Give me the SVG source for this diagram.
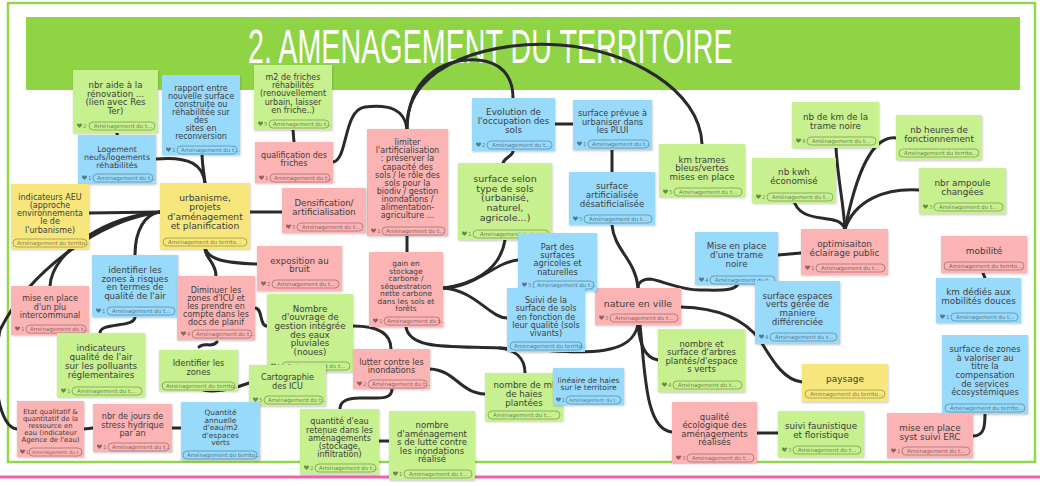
<svg xmlns="http://www.w3.org/2000/svg" width="1040" height="486" viewBox="0 0 1040 486">
<defs>
<style>
.g{fill:#c7f08e}.b{fill:#98dafc}.p{fill:#fbb3b4}.y{fill:#f6e67c}
.s{filter:url(#sh)}
.t{font-family:"DejaVu Sans","Liberation Sans",sans-serif;fill:#3d3d3d;text-anchor:middle}
.pill{fill:none;stroke:#000;stroke-opacity:.32;stroke-width:.9}
.pt{font-family:"DejaVu Sans","Liberation Sans",sans-serif;font-size:5.5px;fill:#000;fill-opacity:.5}
.ps{font-size:4.8px}
.n{font-family:"DejaVu Sans","Liberation Sans",sans-serif;font-size:5.5px;fill:#000;fill-opacity:.45}
.hrt{fill:#000;fill-opacity:.45}
.c path{fill:none;stroke:#2a2a2a;stroke-width:3;stroke-linecap:round}
</style>
<filter id="sh" x="-10%" y="-10%" width="120%" height="130%">
<feDropShadow dx="0.5" dy="1" stdDeviation="0.8" flood-opacity="0.22"/>
</filter>
<path id="hrt" class="hrt" d="M0,1.3 C0,-0.2 2,-0.4 2.5,0.9 C3,-0.4 5,-0.2 5,1.3 C5,2.6 3,3.7 2.5,4.4 C2,3.7 0,2.6 0,1.3Z"/>
</defs>
<rect width="1040" height="486" fill="#fff"/>
<rect x="8" y="3" width="1027" height="459" fill="none" stroke="#93d54b" stroke-width="2.5"/>
<line x1="0" y1="477" x2="1040" y2="477" stroke="#f063a6" stroke-width="3"/>
<g id="title">
<rect x="26" y="17" width="994" height="73" fill="#8fd444"/>
<text transform="translate(248 63) scale(0.594 1)" x="0" y="0" font-family="Liberation Sans, Arial, sans-serif" font-size="48" fill="#fff" textLength="816" lengthAdjust="spacingAndGlyphs">2. AMENAGEMENT DU TERRITOIRE</text>
</g>
<g class="c" id="connectors">
<path d="M116,130 L118,137"/>
<path d="M156,159 C190,156 203,165 205,183"/>
<path d="M202,152 C202,165 204,172 205,183"/>
<path d="M89,213 L160,212"/>
<path d="M50,286 C52,250 110,215 160,212"/>
<path d="M17,429 C0,428 -10,380 0,330 C30,270 100,220 160,212"/>
<path d="M135,255 C135,230 145,214 160,212"/>
<path d="M216,276 C216,262 205,258 205,249"/>
<path d="M205,247 C207,258 220,263 257,264"/>
<path d="M250,212 L282,212"/>
<path d="M293,130 L294,142"/>
<path d="M333,162 C348,160 343,110 365,107 C390,104 405,110 407,129"/>
<path d="M407,129 C408,80 440,58 478,60 C500,62 513,75 513,98"/>
<path d="M407,129 C405,60 500,40 560,45 C630,50 700,90 702,144"/>
<path d="M555,124 L573,124"/>
<path d="M513,151 C513,156 505,157 503,163"/>
<path d="M612,150 L612,172"/>
<path d="M612,225 C614,250 636,260 638,288"/>
<path d="M738,283 C737,292 715,290 700,290 C680,290 660,280 650,279 C642,279 638,283 638,288"/>
<path d="M778,255 L801,253"/>
<path d="M681,307 C720,308 745,320 760,340 C775,365 785,380 802,382"/>
<path d="M836,148 C838,180 843,200 845,229"/>
<path d="M896,138 C870,135 855,180 845,229"/>
<path d="M793,198 C800,228 838,210 845,229"/>
<path d="M919,190 C885,188 855,200 845,229"/>
<path d="M983,273 L985,278"/>
<path d="M973,436 C985,436 985,425 985,412"/>
<path d="M757,433 L778,433"/>
<path d="M638,325 C640,345 645,358 658,360"/>
<path d="M640,325 C645,370 645,430 672,432"/>
<path d="M406,327 C410,350 450,346 500,348 C580,352 630,360 638,325"/>
<path d="M525,373 C525,358 515,350 500,348"/>
<path d="M505,240 C500,272 470,285 443,288"/>
<path d="M443,288 C475,288 495,262 518,260"/>
<path d="M443,288 C475,290 490,318 507,318"/>
<path d="M407,236 L407,252"/>
<path d="M353,326 C380,326 391,335 391,349"/>
<path d="M392,389 C392,400 380,398 360,398 C345,398 340,402 340,409"/>
<path d="M430,369 C455,370 460,393 485,394"/>
<path d="M379,441 L389,441"/>
<path d="M198,386 C201,394 225,392 249,383"/>
<path d="M199,347 C205,341 211,349 217,342"/>
<path d="M255,308 C263,308 259,326 267,326"/>
<path d="M100,333 C100,322 135,328 135,317"/>
<path d="M84,429 L93,428"/>
<path d="M172,428 L181,428"/>
</g>

<g id="n1"><rect class="g s" x="73" y="70" width="85" height="63"/>
<text class="t" font-size="8.6"><tspan x="115.5" y="87.8">nbr aide à la</tspan><tspan x="115.5" dy="8.8">rénovation ...</tspan><tspan x="115.5" dy="8.8">(lien avec Res</tspan><tspan x="115.5" dy="8.8">Ter)</tspan></text>
<use href="#hrt" x="77" y="123.5"/><text class="n" x="83" y="128.3">2</text><rect class="pill" x="89" y="122" width="66" height="8" rx="4"/><text class="pt" x="94" y="128">Aménagement du t...</text></g>

<g id="n2"><rect class="b s" x="162" y="75" width="78" height="80"/>
<text class="t" font-size="8"><tspan x="201" y="90.8">rapport entre</tspan><tspan x="201" dy="8">nouvelle surface</tspan><tspan x="201" dy="8">construite ou</tspan><tspan x="201" dy="8">réhabilitée sur</tspan><tspan x="201" dy="8">des</tspan><tspan x="201" dy="8">sites en</tspan><tspan x="201" dy="8">reconversion</tspan></text>
<use href="#hrt" x="166" y="147.5"/><text class="n" x="172" y="152.3">1</text><rect class="pill" x="177" y="146" width="60" height="8" rx="4"/><text class="pt" x="181" y="152">Aménagement du t...</text></g>

<g id="n3"><rect class="b s" x="78" y="135" width="78" height="49"/>
<text class="t" font-size="7.9"><tspan x="117" y="151.5">Logement</tspan><tspan x="117" dy="8">neufs/logements</tspan><tspan x="117" dy="8">réhabilités</tspan></text>
<use href="#hrt" x="82" y="175.5"/><text class="n" x="88" y="180.3">1</text><rect class="pill" x="93" y="174" width="60" height="8" rx="4"/><text class="pt" x="97" y="180">Aménagement du t...</text></g>

<g id="n4"><rect class="y s" x="11" y="184" width="78" height="65"/>
<text class="t" font-size="8"><tspan x="50" y="200.1">indicateurs AEU</tspan><tspan x="50" dy="8.1">(approche</tspan><tspan x="50" dy="8.1">environnementa</tspan><tspan x="50" dy="8.1">le de</tspan><tspan x="50" dy="8.1">l'urbanisme)</tspan></text>
<rect class="pill" x="13" y="239" width="74" height="8" rx="4"/><text class="pt" x="17" y="245">Aménagement du territo...</text></g>

<g id="n5"><rect class="y s" x="160" y="183" width="90" height="66"/>
<text class="t" font-size="9.2"><tspan x="205" y="201.1">urbanisme,</tspan><tspan x="205" dy="9.2">projets</tspan><tspan x="205" dy="9.2">d'aménagement</tspan><tspan x="205" dy="9.2">et planification</tspan></text>
<rect class="pill" x="163" y="238" width="84" height="8" rx="4"/><text class="pt" x="168" y="244">Aménagement du territo...</text></g>

<g id="n6"><rect class="g s" x="254" y="65" width="78" height="65"/>
<text class="t" font-size="8"><tspan x="293" y="80">m2 de friches</tspan><tspan x="293" dy="8.2">réhabilités</tspan><tspan x="293" dy="8.2">(renouvellement</tspan><tspan x="293" dy="8.2">urbain, laisser</tspan><tspan x="293" dy="8.2">en friche..)</tspan></text>
<use href="#hrt" x="258" y="121.5"/><text class="n" x="264" y="126.3">5</text><rect class="pill" x="269" y="120" width="60" height="8" rx="4"/><text class="pt" x="273" y="126">Aménagement du t...</text></g>

<g id="n7"><rect class="p s" x="255" y="142" width="78" height="41"/>
<text class="t" font-size="8"><tspan x="294" y="158.3">qualification des</tspan><tspan x="294" dy="8">friches</tspan></text>
<use href="#hrt" x="259" y="175.5"/><text class="n" x="265" y="180.3">1</text><rect class="pill" x="270" y="174" width="60" height="8" rx="4"/><text class="pt" x="274" y="180">Aménagement du t...</text></g>

<g id="n8"><rect class="p s" x="367" y="129" width="81" height="107"/>
<text class="t" font-size="8"><tspan x="407.5" y="145.1">limiter</tspan><tspan x="407.5" dy="8.15">l'artificialisation</tspan><tspan x="407.5" dy="8.15">: préserver la</tspan><tspan x="407.5" dy="8.15">capacité des</tspan><tspan x="407.5" dy="8.15">sols / le rôle des</tspan><tspan x="407.5" dy="8.15">sols pour la</tspan><tspan x="407.5" dy="8.15">biodiv / gestion</tspan><tspan x="407.5" dy="8.15">inondations /</tspan><tspan x="407.5" dy="8.15">alimentation-</tspan><tspan x="407.5" dy="8.15">agriculture ...</tspan></text>
<use href="#hrt" x="371" y="228.5"/><text class="n" x="377" y="233.3">1</text><rect class="pill" x="382" y="227" width="63" height="8" rx="4"/><text class="pt" x="386" y="233">Aménagement du t...</text></g>

<g id="n9"><rect class="p s" x="282" y="188" width="84" height="45"/>
<text class="t" font-size="8.6"><tspan x="324" y="206.2">Densification/</tspan><tspan x="324" dy="8.6">artificialisation</tspan></text>
<use href="#hrt" x="286" y="224.5"/><text class="n" x="292" y="229.3">5</text><rect class="pill" x="297" y="223" width="66" height="8" rx="4"/><text class="pt" x="302" y="229">Aménagement du t...</text></g>

<g id="n10"><rect class="b s" x="472" y="98" width="83" height="53"/>
<text class="t" font-size="8.8"><tspan x="513.5" y="115.2">Evolution de</tspan><tspan x="513.5" dy="8.9">l'occupation des</tspan><tspan x="513.5" dy="8.9">sols</tspan></text>
<use href="#hrt" x="476" y="142.5"/><text class="n" x="482" y="147.3">2</text><rect class="pill" x="487" y="141" width="65" height="8" rx="4"/><text class="pt" x="492" y="147">Aménagement du t...</text></g>

<g id="n11"><rect class="b s" x="573" y="100" width="79" height="50"/>
<text class="t" font-size="8.2"><tspan x="612.5" y="116.3">surface prévue à</tspan><tspan x="612.5" dy="8.3">urbaniser dans</tspan><tspan x="612.5" dy="8.3">les PLUI</tspan></text>
<use href="#hrt" x="577" y="141.5"/><text class="n" x="583" y="146.3">1</text><rect class="pill" x="588" y="140" width="61" height="8" rx="4"/><text class="pt" x="592" y="146">Aménagement du t...</text></g>

<g id="n12"><rect class="g s" x="458" y="163" width="94" height="77"/>
<text class="t" font-size="9.5"><tspan x="505" y="182.1">surface selon</tspan><tspan x="505" dy="9.6">type de sols</tspan><tspan x="505" dy="9.6">(urbanisé,</tspan><tspan x="505" dy="9.6">naturel,</tspan><tspan x="505" dy="9.6">agricole...)</tspan></text>
<use href="#hrt" x="462" y="231.5"/><text class="n" x="468" y="236.3">1</text><rect class="pill" x="473" y="230" width="76" height="8" rx="4"/><text class="pt" x="480" y="236">Aménagement du t...</text></g>

<g id="n13"><rect class="b s" x="569" y="172" width="86" height="53"/>
<text class="t" font-size="8.7"><tspan x="612" y="189.2">surface</tspan><tspan x="612" dy="8.8">artificialisée</tspan><tspan x="612" dy="8.8">désatificialisée</tspan></text>
<use href="#hrt" x="573" y="216.5"/><text class="n" x="579" y="221.3">5</text><rect class="pill" x="584" y="215" width="68" height="8" rx="4"/><text class="pt" x="589" y="221">Aménagement du t...</text></g>

<g id="n14"><rect class="g s" x="659" y="144" width="86" height="53"/>
<text class="t" font-size="8.7"><tspan x="702" y="162.5">km trames</tspan><tspan x="702" dy="8.8">bleus/vertes</tspan><tspan x="702" dy="8.8">mises en place</tspan></text>
<use href="#hrt" x="663" y="189.5"/><text class="n" x="669" y="194.3">5</text><rect class="pill" x="674" y="188" width="68" height="8" rx="4"/><text class="pt" x="679" y="194">Aménagement du t...</text></g>

<g id="n15"><rect class="g s" x="792" y="102" width="87" height="46"/>
<text class="t" font-size="8.7"><tspan x="835.5" y="119.7">nb de km de la</tspan><tspan x="835.5" dy="9">trame noire</tspan></text>
<use href="#hrt" x="796" y="138.5"/><text class="n" x="802" y="143.3">4</text><rect class="pill" x="807" y="137" width="69" height="8" rx="4"/><text class="pt" x="812" y="143">Aménagement du t...</text></g>

<g id="n16"><rect class="g s" x="896" y="115" width="86" height="45"/>
<text class="t" font-size="8.8"><tspan x="939" y="133.1">nb heures de</tspan><tspan x="939" dy="9">fonctionnement</tspan></text>
<rect class="pill" x="899" y="149" width="80" height="8" rx="4"/><text class="pt" x="904" y="155">Aménagement du territo...</text></g>

<g id="n17"><rect class="g s" x="752" y="158" width="84" height="45"/>
<text class="t" font-size="8.8"><tspan x="794" y="175.1">nb kwh</tspan><tspan x="794" dy="9">économisé</tspan></text>
<use href="#hrt" x="756" y="194.5"/><text class="n" x="762" y="199.3">2</text><rect class="pill" x="767" y="193" width="66" height="8" rx="4"/><text class="pt" x="772" y="199">Aménagement du t...</text></g>

<g id="n18"><rect class="g s" x="919" y="168" width="87" height="46"/>
<text class="t" font-size="8.8"><tspan x="962.5" y="186.1">nbr ampoule</tspan><tspan x="962.5" dy="9">changées</tspan></text>
<use href="#hrt" x="923" y="204.5"/><text class="n" x="929" y="209.3">3</text><rect class="pill" x="934" y="203" width="69" height="8" rx="4"/><text class="pt" x="939" y="209">Aménagement du t...</text></g>

<g id="n19"><rect class="p s" x="801" y="229" width="87" height="46"/>
<text class="t" font-size="8.8"><tspan x="844.5" y="246.9">optimisaiton</tspan><tspan x="844.5" dy="9">éclairage public</tspan></text>
<use href="#hrt" x="805" y="265.5"/><text class="n" x="811" y="270.3">1</text><rect class="pill" x="816" y="264" width="69" height="8" rx="4"/><text class="pt" x="821" y="270">Aménagement du t...</text></g>

<g id="n20"><rect class="b s" x="695" y="232" width="83" height="53"/>
<text class="t" font-size="8.7"><tspan x="736.5" y="248.8">Mise en place</tspan><tspan x="736.5" dy="8.9">d'une trame</tspan><tspan x="736.5" dy="8.9">noire</tspan></text>
<use href="#hrt" x="699" y="277.5"/><text class="n" x="705" y="282.3">4</text><rect class="pill" x="710" y="276" width="65" height="8" rx="4"/><text class="pt" x="715" y="282">Aménagement du t...</text></g>

<g id="n21"><rect class="p s" x="941" y="236" width="86" height="37"/>
<text class="t" font-size="9"><tspan x="984" y="254.2">mobilité</tspan></text>
<rect class="pill" x="944" y="262" width="80" height="8" rx="4"/><text class="pt" x="949" y="268">Aménagement du territo...</text></g>

<g id="n22"><rect class="b s" x="936" y="278" width="85" height="45"/>
<text class="t" font-size="8.8"><tspan x="978.5" y="295.4">km dédiés aux</tspan><tspan x="978.5" dy="9">mobilités douces</tspan></text>
<use href="#hrt" x="940" y="314.5"/><text class="n" x="946" y="319.3">1</text><rect class="pill" x="951" y="313" width="67" height="8" rx="4"/><text class="pt" x="956" y="319">Aménagement du t...</text></g>

<g id="n23"><rect class="b s" x="755" y="281" width="85" height="63"/>
<text class="t" font-size="8.7"><tspan x="797.5" y="298.6">surface espaces</tspan><tspan x="797.5" dy="8.8">verts gérée de</tspan><tspan x="797.5" dy="8.8">maniere</tspan><tspan x="797.5" dy="8.8">différenciée</tspan></text>
<use href="#hrt" x="759" y="334.5"/><text class="n" x="765" y="339.3">4</text><rect class="pill" x="770" y="333" width="67" height="8" rx="4"/><text class="pt" x="775" y="339">Aménagement du t...</text></g>

<g id="n24"><rect class="b s" x="942" y="335" width="86" height="79"/>
<text class="t" font-size="8.4"><tspan x="985" y="352.2">surface de zones</tspan><tspan x="985" dy="8.6">à valoriser au</tspan><tspan x="985" dy="8.6">titre la</tspan><tspan x="985" dy="8.6">compensation</tspan><tspan x="985" dy="8.6">de services</tspan><tspan x="985" dy="8.6">écosystémiques</tspan></text>
<rect class="pill" x="945" y="404" width="80" height="8" rx="4"/><text class="pt" x="950" y="410">Aménagement du territo...</text></g>

<g id="n25"><rect class="y s" x="802" y="364" width="86" height="38"/>
<text class="t" font-size="9"><tspan x="845" y="382.2">paysage</tspan></text>
<rect class="pill" x="805" y="390" width="80" height="8" rx="4"/><text class="pt" x="810" y="396">Aménagement du territo...</text></g>

<g id="n26"><rect class="g s" x="778" y="411" width="86" height="46"/>
<text class="t" font-size="8.8"><tspan x="821" y="429.1">suivi faunistique</tspan><tspan x="821" dy="9">et floristique</tspan></text>
<use href="#hrt" x="782" y="447.5"/><text class="n" x="788" y="452.3">3</text><rect class="pill" x="793" y="446" width="68" height="8" rx="4"/><text class="pt" x="798" y="452">Aménagement du t...</text></g>

<g id="n27"><rect class="p s" x="887" y="413" width="86" height="45"/>
<text class="t" font-size="8.8"><tspan x="930" y="430.8">mise en place</tspan><tspan x="930" dy="9">syst suivi ERC</tspan></text>
<use href="#hrt" x="891" y="448.5"/><text class="n" x="897" y="453.3">1</text><rect class="pill" x="902" y="447" width="68" height="8" rx="4"/><text class="pt" x="907" y="453">Aménagement du t...</text></g>

<g id="n28"><rect class="p s" x="672" y="402" width="85" height="61"/>
<text class="t" font-size="8.5"><tspan x="714.5" y="419.5">qualité</tspan><tspan x="714.5" dy="8.5">écologique des</tspan><tspan x="714.5" dy="8.5">aménagements</tspan><tspan x="714.5" dy="8.5">réalisés</tspan></text>
<use href="#hrt" x="676" y="455.5"/><text class="n" x="682" y="460.3">3</text><rect class="pill" x="687" y="454" width="67" height="8" rx="4"/><text class="pt" x="692" y="460">Aménagement du t...</text></g>

<g id="n29"><rect class="g s" x="658" y="329" width="87" height="63"/>
<text class="t" font-size="8.5"><tspan x="701.5" y="346.9">nombre et</tspan><tspan x="701.5" dy="8.5">surface d'arbres</tspan><tspan x="701.5" dy="8.5">plantés/d'espace</tspan><tspan x="701.5" dy="8.5">s verts</tspan></text>
<use href="#hrt" x="662" y="382.5"/><text class="n" x="668" y="387.3">4</text><rect class="pill" x="673" y="381" width="69" height="8" rx="4"/><text class="pt" x="678" y="387">Aménagement du t...</text></g>

<g id="n30"><rect class="p s" x="595" y="288" width="86" height="37"/>
<text class="t" font-size="9.5"><tspan x="638" y="306.6">nature en ville</tspan></text>
<use href="#hrt" x="599" y="315.5"/><text class="n" x="605" y="320.3">3</text><rect class="pill" x="610" y="314" width="68" height="8" rx="4"/><text class="pt" x="615" y="320">Aménagement du t...</text></g>

<g id="n31"><rect class="b s" x="518" y="233" width="79" height="58"/>
<text class="t" font-size="8.2"><tspan x="557.5" y="249.9">Part des</tspan><tspan x="557.5" dy="8.2">surfaces</tspan><tspan x="557.5" dy="8.2">agricoles et</tspan><tspan x="557.5" dy="8.2">naturelles</tspan></text>
<use href="#hrt" x="522" y="282.5"/><text class="n" x="528" y="287.3">5</text><rect class="pill" x="533" y="281" width="61" height="8" rx="4"/><text class="pt" x="537" y="287">Aménagement du t...</text></g>

<g id="n32"><rect class="b s" x="507" y="288" width="78" height="64"/>
<text class="t" font-size="8.1"><tspan x="546" y="303.3">Suivi de la</tspan><tspan x="546" dy="8.1">surface de sols</tspan><tspan x="546" dy="8.1">en fonction de</tspan><tspan x="546" dy="8.1">leur qualité (sols</tspan><tspan x="546" dy="8.1">vivants)</tspan></text>
<rect class="pill" x="510" y="342" width="72" height="8" rx="4"/><text class="pt" x="514" y="348">Aménagement du territo...</text></g>

<g id="n33"><rect class="p s" x="369" y="252" width="74" height="75"/>
<text class="t" font-size="7.4"><tspan x="406" y="266.3">gain en</tspan><tspan x="406" dy="7.5">stockage</tspan><tspan x="406" dy="7.5">carbone /</tspan><tspan x="406" dy="7.5">séquestration</tspan><tspan x="406" dy="7.5">nette carbone</tspan><tspan x="406" dy="7.5">dans les sols et</tspan><tspan x="406" dy="7.5">forêts</tspan></text>
<use href="#hrt" x="373" y="318.5"/><text class="n" x="379" y="323.3">1</text><rect class="pill" x="384" y="317" width="56" height="8" rx="4"/><text class="pt" x="387" y="323">Aménagement du t...</text></g>

<g id="n34"><rect class="p s" x="257" y="246" width="85" height="45"/>
<text class="t" font-size="8.7"><tspan x="299.5" y="263.6">exposition au</tspan><tspan x="299.5" dy="8.8">bruit</tspan></text>
<use href="#hrt" x="261" y="281.5"/><text class="n" x="267" y="286.3">2</text><rect class="pill" x="272" y="280" width="67" height="8" rx="4"/><text class="pt" x="277" y="286">Aménagement du t...</text></g>

<g id="n35"><rect class="b s" x="92" y="255" width="86" height="62"/>
<text class="t" font-size="8.6"><tspan x="135" y="273">identifier les</tspan><tspan x="135" dy="8.7">zones à risques</tspan><tspan x="135" dy="8.7">en termes de</tspan><tspan x="135" dy="8.7">qualité de l'air</tspan></text>
<use href="#hrt" x="96" y="308.5"/><text class="n" x="102" y="313.3">1</text><rect class="pill" x="107" y="307" width="68" height="8" rx="4"/><text class="pt" x="112" y="313">Aménagement du t...</text></g>

<g id="n36"><rect class="p s" x="177" y="276" width="78" height="64"/>
<text class="t" font-size="8"><tspan x="216" y="292.6">Diminuer les</tspan><tspan x="216" dy="8">zones d'ICU et</tspan><tspan x="216" dy="8">les prendre en</tspan><tspan x="216" dy="8">compte dans les</tspan><tspan x="216" dy="8">docs de planif</tspan></text>
<use href="#hrt" x="181" y="331.5"/><text class="n" x="187" y="336.3">4</text><rect class="pill" x="192" y="330" width="60" height="8" rx="4"/><text class="pt" x="196" y="336">Aménagement du t...</text></g>

<g id="n37"><rect class="p s" x="11" y="286" width="78" height="49"/>
<text class="t" font-size="8"><tspan x="50" y="301.3">mise en place</tspan><tspan x="50" dy="8.2">d'un plu</tspan><tspan x="50" dy="8.2">intercommunal</tspan></text>
<use href="#hrt" x="15" y="326.5"/><text class="n" x="21" y="331.3">1</text><rect class="pill" x="26" y="325" width="60" height="8" rx="4"/><text class="pt" x="30" y="331">Aménagement du t...</text></g>

<g id="n38"><rect class="g s" x="267" y="294" width="86" height="78"/>
<text class="t" font-size="8.7"><tspan x="310" y="311.6">Nombre</tspan><tspan x="310" dy="8.7">d'ouvrage de</tspan><tspan x="310" dy="8.7">gestion intégrée</tspan><tspan x="310" dy="8.7">des eaux</tspan><tspan x="310" dy="8.7">pluviales</tspan><tspan x="310" dy="8.7">(noues)</tspan></text>
<use href="#hrt" x="271" y="363.5"/><text class="n" x="277" y="368.3">3</text><rect class="pill" x="282" y="362" width="68" height="8" rx="4"/><text class="pt" x="287" y="368">Aménagement du t...</text></g>

<g id="n39"><rect class="g s" x="57" y="333" width="88" height="64"/>
<text class="t" font-size="8.8"><tspan x="101" y="351.1">indicateurs</tspan><tspan x="101" dy="8.8">qualité de l'air</tspan><tspan x="101" dy="8.8">sur les polluants</tspan><tspan x="101" dy="8.8">réglementaires</tspan></text>
<use href="#hrt" x="61" y="388.5"/><text class="n" x="67" y="393.3">1</text><rect class="pill" x="72" y="387" width="70" height="8" rx="4"/><text class="pt" x="77" y="393">Aménagement du t...</text></g>

<g id="n40"><rect class="g s" x="159" y="350" width="79" height="41"/>
<text class="t" font-size="8.3"><tspan x="198.5" y="366.2">Identifier les</tspan><tspan x="198.5" dy="8.4">zones</tspan></text>
<rect class="pill" x="162" y="382" width="73" height="8" rx="4"/><text class="pt" x="166" y="388">Aménagement du territo...</text></g>

<g id="n41"><rect class="g s" x="249" y="365" width="77" height="41"/>
<text class="t" font-size="8.1"><tspan x="287.5" y="380.4">Cartographie</tspan><tspan x="287.5" dy="8.2">des ICU</tspan></text>
<use href="#hrt" x="253" y="397.5"/><text class="n" x="259" y="402.3">5</text><rect class="pill" x="264" y="396" width="59" height="8" rx="4"/><text class="pt" x="268" y="402">Aménagement du t...</text></g>

<g id="n42"><rect class="p s" x="353" y="349" width="77" height="40"/>
<text class="t" font-size="8.1"><tspan x="391.5" y="364.9">lutter contre les</tspan><tspan x="391.5" dy="8.2">inondations</tspan></text>
<use href="#hrt" x="357" y="381.5"/><text class="n" x="363" y="386.3">2</text><rect class="pill" x="368" y="380" width="59" height="8" rx="4"/><text class="pt" x="372" y="386">Aménagement du t...</text></g>

<g id="n43"><rect class="p s" x="17" y="401" width="67" height="56"/>
<text class="t" font-size="6.9"><tspan x="50.5" y="414.4">Etat qualitatif &amp;</tspan><tspan x="50.5" dy="7">quantitatif de la</tspan><tspan x="50.5" dy="7">ressource en</tspan><tspan x="50.5" dy="7">eau (indicateur</tspan><tspan x="50.5" dy="7">Agence de l'eau)</tspan></text>
<use href="#hrt" x="20" y="449.5"/><text class="n" x="25.5" y="454">1</text><rect class="pill" x="29" y="448" width="53" height="8" rx="4"/><text class="pt ps" x="32" y="454">Aménagement du t...</text></g>

<g id="n44"><rect class="p s" x="93" y="404" width="79" height="48"/>
<text class="t" font-size="8.1"><tspan x="132.5" y="419.4">nbr de jours de</tspan><tspan x="132.5" dy="8.2">stress hydrique</tspan><tspan x="132.5" dy="8.2">par an</tspan></text>
<use href="#hrt" x="97" y="444.5"/><text class="n" x="103" y="449.3">1</text><rect class="pill" x="108" y="443" width="61" height="8" rx="4"/><text class="pt" x="112" y="449">Aménagement du t...</text></g>

<g id="n45"><rect class="b s" x="181" y="402" width="79" height="58"/>
<text class="t" font-size="7.4"><tspan x="220.5" y="415.4">Quantité</tspan><tspan x="220.5" dy="7.5">annuelle</tspan><tspan x="220.5" dy="7.5">d'eau/m2</tspan><tspan x="220.5" dy="7.5">d'espaces</tspan><tspan x="220.5" dy="7.5">verts</tspan></text>
<rect class="pill" x="183" y="451" width="74" height="8" rx="4"/><text class="pt" x="187" y="457">Aménagement du territo...</text></g>

<g id="n46"><rect class="g s" x="300" y="409" width="79" height="65"/>
<text class="t" font-size="8"><tspan x="339.5" y="424.4">quantité d'eau</tspan><tspan x="339.5" dy="8.2">retenue dans les</tspan><tspan x="339.5" dy="8.2">aménagements</tspan><tspan x="339.5" dy="8.2">(stockage,</tspan><tspan x="339.5" dy="8.2">infiltration)</tspan></text>
<use href="#hrt" x="304" y="465.5"/><text class="n" x="310" y="470.3">2</text><rect class="pill" x="315" y="464" width="61" height="8" rx="4"/><text class="pt" x="319" y="470">Aménagement du t...</text></g>

<g id="n47"><rect class="g s" x="389" y="411" width="86" height="69"/>
<text class="t" font-size="8.5"><tspan x="432" y="428.3">nombre</tspan><tspan x="432" dy="8.5">d'aménagement</tspan><tspan x="432" dy="8.5">s de lutte contre</tspan><tspan x="432" dy="8.5">les inondations</tspan><tspan x="432" dy="8.5">réalisé</tspan></text>
<use href="#hrt" x="393" y="471.5"/><text class="n" x="399" y="476.3">1</text><rect class="pill" x="404" y="470" width="68" height="8" rx="4"/><text class="pt" x="409" y="476">Aménagement du t...</text></g>

<g id="n48"><rect class="g s" x="485" y="373" width="78" height="48"/>
<text class="t" font-size="8.7"><tspan x="524" y="388.2">nombre de ml</tspan><tspan x="524" dy="8.8">de haies</tspan><tspan x="524" dy="8.8">plantées</tspan></text>
<rect class="pill" x="488" y="411" width="72" height="8" rx="4"/><text class="pt" x="493" y="417">Aménagement du t...</text></g>

<g id="n49"><rect class="b s" x="553" y="368" width="71" height="37"/>
<text class="t" font-size="7.5"><tspan x="588.5" y="382.5">linéaire de haies</tspan><tspan x="588.5" dy="7.6">sur le territoire</tspan></text>
<use href="#hrt" x="556" y="397.5"/><text class="n" x="561.5" y="402">1</text><rect class="pill" x="566" y="396" width="55" height="8" rx="4"/><text class="pt ps" x="569" y="402">Aménagement du t...</text></g>
</svg>
